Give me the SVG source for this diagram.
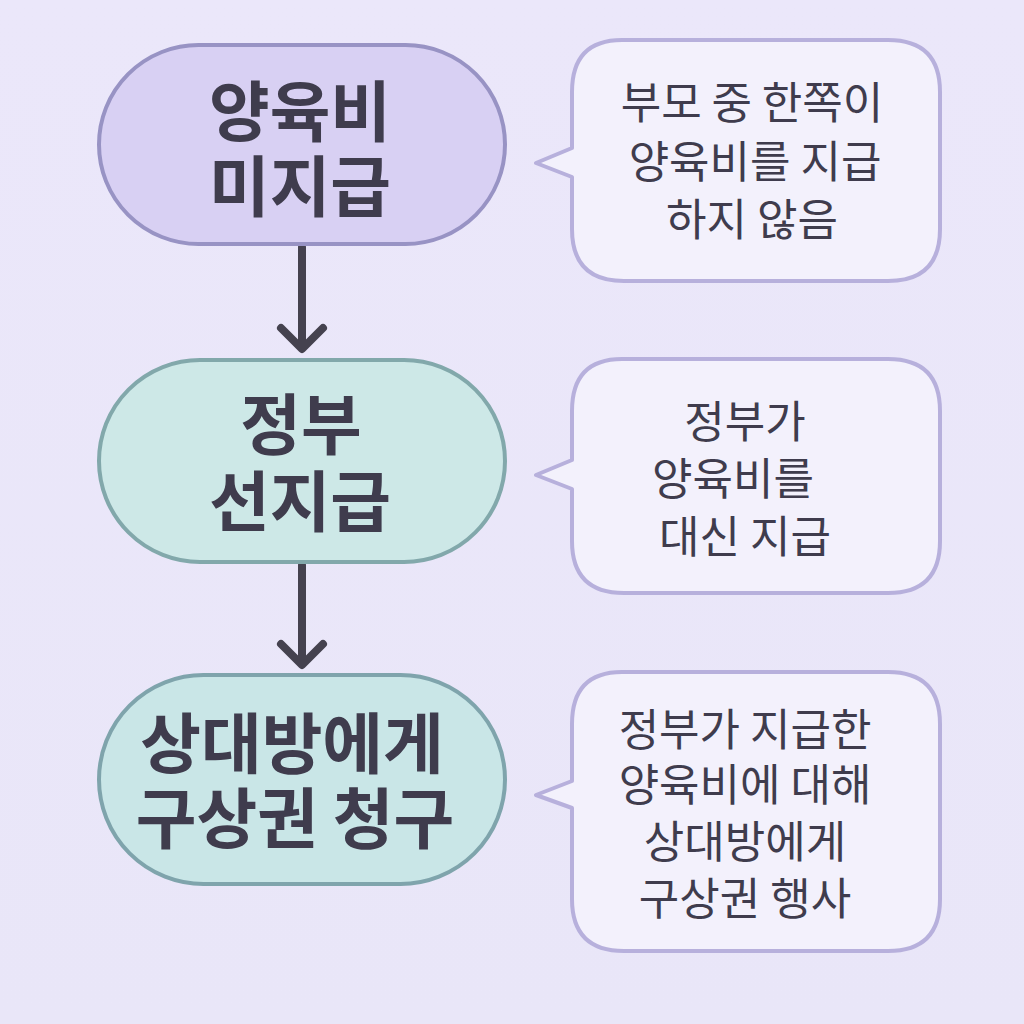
<svg xmlns="http://www.w3.org/2000/svg" width="1024" height="1024" viewBox="0 0 1024 1024">
<defs>
<linearGradient id="bg" x1="0" y1="0" x2="0" y2="1">
<stop offset="0" stop-color="#ebe7fa"/>
<stop offset="1" stop-color="#e9e6f8"/>
</linearGradient>
</defs>
<style>
.title{font-family:"Noto Sans CJK KR","Noto Sans",sans-serif;font-weight:bold;font-size:66px;fill:#3f3c4d;text-anchor:middle}
.note{font-family:"Noto Sans CJK KR","Noto Sans",sans-serif;font-size:44px;fill:#3f3c4d;text-anchor:middle}
.callout{fill:#f3f1fc;stroke:#b7b0dc;stroke-width:4;stroke-linejoin:round}
.arrow{fill:none;stroke:#45424f;stroke-width:8;stroke-linecap:round;stroke-linejoin:round}
</style>
<rect width="1024" height="1024" fill="url(#bg)"/>
<g id="connectors">
<path class="arrow" d="M302 247 V347 M281 328 L302 349 L323 328"/>
<path class="arrow" d="M302 565 V663 M281 644 L302 665 L323 644"/>
</g>
<g id="node1">
<rect x="99" y="45" width="406" height="199" rx="99.5" fill="#d8d0f3" stroke="#9893c4" stroke-width="4"/>
<text class="title"><tspan x="300" y="136">양육비</tspan><tspan x="300" y="211">미지급</tspan></text>
</g>
<g id="node2">
<rect x="99" y="360" width="406" height="202" rx="101" fill="#cde8e7" stroke="#82a8ab" stroke-width="4"/>
<text class="title"><tspan x="301" y="449">정부</tspan><tspan x="300" y="526">선지급</tspan></text>
</g>
<g id="node3">
<rect x="99" y="675" width="406" height="209" rx="104.5" fill="#c9e6e7" stroke="#7fa4ac" stroke-width="4"/>
<text class="title"><tspan x="292" y="768">상대방에게</tspan><tspan x="295" y="843">구상권 청구</tspan></text>
</g>
<g id="callout1">
<path class="callout" d="M622 40 H888 Q940 40 940 92 V229 Q940 281 888 281 H624 Q572 281 572 229 V177 L536 163 L572 148 V92 Q572 40 622 40 Z"/>
<text class="note"><tspan x="752" y="119">부모 중 한쪽이</tspan><tspan x="755" y="178">양육비를 지급</tspan><tspan x="752" y="236">하지 않음</tspan></text>
</g>
<g id="callout2">
<path class="callout" d="M622 359 H888 Q940 359 940 411 V541 Q940 593 888 593 H624 Q572 593 572 541 V489 L536 475 L572 460 V411 Q572 359 622 359 Z"/>
<text class="note"><tspan x="745" y="438">정부가</tspan><tspan x="733" y="495">양육비를</tspan><tspan x="745" y="553">대신 지급</tspan></text>
</g>
<g id="callout3">
<path class="callout" d="M622 672 H888 Q940 672 940 724 V899 Q940 951 888 951 H624 Q572 951 572 899 V808 L536 795 L572 781 V724 Q572 672 622 672 Z"/>
<text class="note"><tspan x="745" y="746">정부가 지급한</tspan><tspan x="745" y="801">양육비에 대해</tspan><tspan x="745" y="858">상대방에게</tspan><tspan x="745" y="915">구상권 행사</tspan></text>
</g>
</svg>
